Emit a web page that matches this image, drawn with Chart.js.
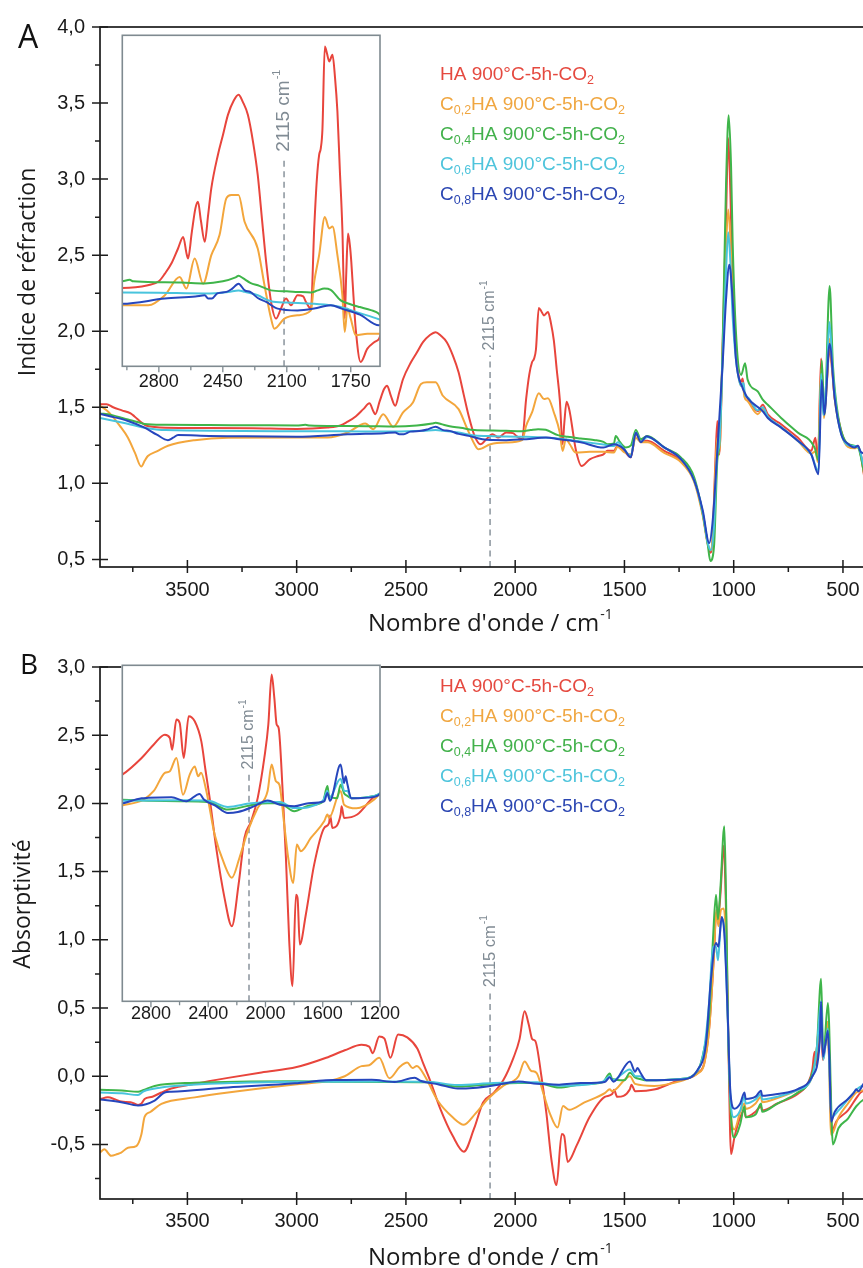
<!DOCTYPE html>
<html><head><meta charset="utf-8">
<script src="https://cdn.jsdelivr.net/npm/chart.js@4.4.1/dist/chart.umd.min.js"></script>
<style>
html,body{margin:0;padding:0;background:#fff;overflow:hidden;width:863px;height:1268px}
#wrap{position:relative;width:863px;height:1268px;overflow:hidden;background:#fff}
canvas{position:absolute;left:0}
</style></head><body>
<div id="wrap">
<canvas id="cA" width="900" height="640" style="top:0"></canvas>
<canvas id="cAi" width="900" height="640" style="top:0"></canvas>
<canvas id="cB" width="900" height="628" style="top:640px"></canvas>
<canvas id="cBi" width="900" height="628" style="top:640px"></canvas>
</div>
<script>
// ---------- labels ----------
const legendPrefix = ['', 'C', 'C', 'C', 'C'];
const legendSub = ['', '0,2', '0,4', '0,6', '0,8'];
const legendBody = 'HA 900°C-5h-CO';
const legendTail = '2';
const titleX = "Nombre d'onde / cm";
const titleYA = 'Indice de réfraction';
const titleYB = 'Absorptivité';
const markerText = '2115 cm';
const markerWN = 2115;

// ---------- ticks ----------
const xTicksMain = [3500, 3000, 2500, 2000, 1500, 1000, 500];
const xMinorMain = [3750, 3250, 2750, 2250, 1750, 1250, 750];
const yTicksA = [0.5, 1.0, 1.5, 2.0, 2.5, 3.0, 3.5, 4.0];
const yMinorA = [0.75, 1.25, 1.75, 2.25, 2.75, 3.25, 3.75];
const yTicksB = [-0.5, 0.0, 0.5, 1.0, 1.5, 2.0, 2.5, 3.0];
const yMinorB = [-0.75, -0.25, 0.25, 0.75, 1.25, 1.75, 2.25, 2.75];
const xTicksInsetA = [2800, 2450, 2100, 1750];
const xMinorInsetA = [2975, 2625, 2275, 1925];
const xTicksInsetB = [2800, 2400, 2000, 1600, 1200];
const xMinorInsetB = [2600, 2200, 1800, 1400];

// ---------- Panel A : refractive index [wavenumber, value] ----------
const refHA = [[3900,1.52],[3870,1.52],[3840,1.50],[3800,1.48],[3760,1.46],[3742,1.44],[3710,1.40],[3690,1.38],[3650,1.37],[3600,1.366],[3400,1.364],[3200,1.362],[3000,1.358],[2860,1.367],[2800,1.38],[2767,1.405],[2730,1.44],[2695,1.488],[2667,1.526],[2648,1.47],[2640,1.455],[2620,1.54],[2600,1.62],[2586,1.642],[2570,1.58],[2549,1.51],[2530,1.6],[2513,1.686],[2477,1.796],[2450,1.86],[2422,1.928],[2390,1.975],[2364,1.994],[2340,1.97],[2313,1.928],[2285,1.84],[2259,1.73],[2235,1.58],[2213,1.444],[2186,1.312],[2159,1.257],[2132,1.29],[2104,1.323],[2077,1.301],[2041,1.334],[2010,1.33],[1995,1.312],[1968,1.29],[1950,1.554],[1935,1.72],[1923,1.796],[1914,1.818],[1905,1.88],[1892,2.153],[1880,2.13],[1868,2.104],[1850,2.126],[1836,2.05],[1823,1.939],[1810,1.75],[1796,1.554],[1783,1.257],[1775,1.40],[1765,1.537],[1755,1.50],[1747,1.444],[1735,1.33],[1723,1.224],[1696,1.114],[1659,1.158],[1620,1.18],[1596,1.19],[1578,1.214],[1548,1.214],[1532,1.247],[1502,1.214],[1471,1.171],[1448,1.323],[1425,1.279],[1395,1.28],[1318,1.214],[1242,1.15],[1181,1.02],[1142,0.803],[1119,0.608],[1107,0.543],[1097,0.63],[1085,1.10],[1075,1.41],[1066,1.19],[1051,1.885],[1035,2.75],[1025,3.27],[1015,2.9],[1005,2.32],[990,1.885],[966,1.669],[959,1.69],[951,1.593],[936,1.56],[890,1.474],[867,1.517],[844,1.453],[783,1.388],[707,1.301],[645,1.214],[626,1.30],[615,1.15],[600,1.82],[587,1.453],[575,1.65],[561,1.885],[550,1.75],[538,1.56],[508,1.344],[477,1.247],[447,1.236],[431,1.247],[416,1.17],[402,1.04],[390,1.0]];
const refC02 = [[3900,1.51],[3870,1.48],[3849,1.45],[3810,1.38],[3772,1.30],[3740,1.20],[3711,1.11],[3695,1.15],[3681,1.18],[3640,1.21],[3589,1.247],[3467,1.284],[3314,1.30],[3000,1.301],[2858,1.301],[2767,1.334],[2686,1.394],[2649,1.356],[2604,1.455],[2558,1.372],[2513,1.466],[2468,1.532],[2431,1.653],[2404,1.664],[2364,1.664],[2331,1.576],[2259,1.488],[2222,1.367],[2186,1.257],[2168,1.224],[2113,1.257],[2041,1.268],[1968,1.284],[1950,1.378],[1923,1.466],[1892,1.592],[1868,1.554],[1850,1.56],[1823,1.466],[1796,1.334],[1783,1.213],[1768,1.29],[1750,1.257],[1723,1.202],[1659,1.207],[1596,1.207],[1548,1.203],[1532,1.24],[1502,1.205],[1471,1.19],[1448,1.30],[1425,1.27],[1395,1.27],[1318,1.20],[1242,1.14],[1181,1.01],[1142,0.79],[1119,0.60],[1107,0.56],[1097,0.62],[1085,1.05],[1075,1.30],[1066,1.20],[1051,1.85],[1035,2.55],[1025,2.8],[1015,2.6],[1005,2.2],[990,1.85],[966,1.64],[959,1.66],[951,1.57],[936,1.54],[890,1.455],[867,1.49],[844,1.435],[783,1.37],[707,1.28],[645,1.195],[626,1.21],[615,1.14],[600,1.75],[587,1.43],[575,1.62],[561,1.95],[550,1.78],[538,1.56],[508,1.33],[477,1.24],[447,1.23],[431,1.24],[416,1.17],[402,1.05],[390,1.0]];
const refC04 = [[3900,1.46],[3850,1.45],[3772,1.42],[3720,1.40],[3696,1.39],[3600,1.385],[3400,1.383],[3200,1.382],[3000,1.38],[2960,1.385],[2940,1.38],[2800,1.377],[2677,1.376],[2550,1.373],[2450,1.38],[2380,1.393],[2364,1.398],[2340,1.39],[2300,1.375],[2250,1.365],[2186,1.35],[2100,1.347],[2041,1.345],[1968,1.343],[1930,1.35],[1895,1.356],[1860,1.352],[1805,1.317],[1760,1.306],[1700,1.295],[1640,1.285],[1596,1.273],[1578,1.257],[1548,1.262],[1540,1.312],[1520,1.27],[1494,1.236],[1470,1.25],[1448,1.35],[1425,1.29],[1395,1.312],[1318,1.236],[1242,1.171],[1181,1.04],[1142,0.803],[1119,0.60],[1107,0.49],[1090,0.587],[1075,1.15],[1066,1.25],[1051,1.885],[1035,2.97],[1023,3.42],[1012,3.08],[1005,2.6],[990,2.0],[966,1.712],[948,1.79],[936,1.68],[890,1.604],[867,1.55],[844,1.517],[783,1.43],[707,1.334],[630,1.236],[612,1.15],[597,1.81],[585,1.453],[561,2.297],[546,1.777],[523,1.45],[477,1.26],[431,1.236],[402,1.06],[390,1.0]];
const refC06 = [[3900,1.43],[3800,1.40],[3696,1.366],[3600,1.35],[3000,1.343],[2800,1.342],[2550,1.34],[2420,1.345],[2364,1.35],[2330,1.345],[2259,1.334],[2186,1.314],[2100,1.31],[1950,1.306],[1850,1.30],[1805,1.295],[1700,1.275],[1596,1.255],[1548,1.245],[1530,1.27],[1502,1.225],[1471,1.18],[1448,1.335],[1425,1.275],[1395,1.305],[1318,1.235],[1242,1.16],[1181,1.02],[1142,0.81],[1119,0.61],[1105,0.56],[1090,0.72],[1075,1.2],[1066,1.25],[1051,1.8],[1035,2.4],[1025,2.65],[1015,2.45],[1005,2.1],[990,1.82],[966,1.64],[955,1.66],[948,1.58],[936,1.565],[890,1.48],[867,1.50],[844,1.44],[783,1.37],[707,1.28],[645,1.19],[612,1.08],[600,1.72],[590,1.45],[575,1.7],[562,2.06],[546,1.72],[523,1.42],[477,1.25],[431,1.24],[402,1.1],[390,1.05]];
const refC08 = [[3900,1.456],[3850,1.44],[3772,1.41],[3696,1.366],[3640,1.32],[3589,1.284],[3565,1.30],[3543,1.318],[3400,1.312],[3300,1.31],[3000,1.306],[2767,1.323],[2600,1.33],[2549,1.334],[2530,1.323],[2510,1.323],[2480,1.34],[2430,1.345],[2400,1.355],[2364,1.372],[2330,1.35],[2300,1.345],[2259,1.325],[2213,1.312],[2150,1.29],[2041,1.284],[1950,1.29],[1859,1.301],[1800,1.29],[1700,1.27],[1596,1.235],[1548,1.257],[1502,1.225],[1471,1.171],[1448,1.333],[1425,1.27],[1400,1.31],[1318,1.236],[1242,1.16],[1181,1.02],[1142,0.825],[1112,0.608],[1097,0.74],[1074,1.236],[1051,1.777],[1035,2.21],[1020,2.437],[1005,2.21],[990,1.82],[959,1.626],[951,1.60],[936,1.56],[867,1.474],[844,1.43],[783,1.366],[707,1.28],[645,1.19],[612,1.06],[597,1.68],[585,1.453],[561,1.918],[538,1.56],[508,1.323],[477,1.26],[447,1.236],[431,1.247],[420,1.21],[402,1.19],[390,1.15]];

// ---------- Panel B : absorptivity [wavenumber, value] ----------
const absHA = [[3900,-0.167],[3864,-0.155],[3830,-0.17],[3803,-0.186],[3760,-0.19],[3726,-0.21],[3710,-0.2],[3696,-0.167],[3660,-0.15],[3619,-0.119],[3574,-0.09],[3466,-0.055],[3314,-0.012],[3161,0.028],[3000,0.067],[2865,0.135],[2780,0.19],[2703,0.23],[2668,0.217],[2652,0.169],[2622,0.292],[2599,0.278],[2571,0.135],[2536,0.306],[2494,0.285],[2448,0.203],[2420,0.09],[2390,-0.028],[2344,-0.233],[2286,-0.437],[2235,-0.553],[2188,-0.383],[2147,-0.192],[2100,-0.124],[2054,-0.028],[2008,0.135],[1980,0.272],[1957,0.476],[1938,0.38],[1922,0.272],[1908,0.258],[1880,0.0],[1857,-0.274],[1834,-0.614],[1811,-0.798],[1787,-0.424],[1776,-0.437],[1760,-0.628],[1718,-0.505],[1660,-0.301],[1590,-0.151],[1556,-0.131],[1548,-0.1],[1533,-0.151],[1475,-0.096],[1468,-0.062],[1451,-0.11],[1359,-0.096],[1242,-0.024],[1208,-0.015],[1165,0.024],[1135,0.095],[1112,0.357],[1090,0.9],[1080,1.2],[1072,1.15],[1060,1.35],[1046,1.69],[1035,1.2],[1025,0.3],[1012,-0.571],[997,-0.45],[970,-0.3],[951,-0.25],[945,-0.3],[900,-0.26],[875,-0.22],[870,-0.25],[800,-0.2],[707,-0.13],[660,-0.05],[640,0.05],[630,0.18],[622,0.08],[612,0.2],[600,0.35],[592,0.12],[582,0.22],[570,0.3],[560,0.0],[550,-0.4],[530,-0.33],[477,-0.25],[439,-0.16],[420,-0.12],[402,-0.1],[390,-0.08]];
const absC02 = [[3900,-0.56],[3880,-0.536],[3849,-0.583],[3820,-0.57],[3803,-0.56],[3772,-0.524],[3734,-0.512],[3711,-0.429],[3696,-0.298],[3670,-0.262],[3619,-0.202],[3466,-0.155],[3314,-0.119],[3008,-0.06],[2855,-0.036],[2780,0.0],[2703,0.074],[2668,0.081],[2622,0.135],[2576,-0.015],[2529,0.067],[2494,0.1],[2470,0.06],[2450,0.075],[2413,0.0],[2355,-0.178],[2286,-0.301],[2235,-0.355],[2182,-0.274],[2124,-0.165],[2054,-0.069],[1985,0.0],[1957,0.108],[1927,0.04],[1903,0.026],[1869,-0.137],[1841,-0.274],[1806,-0.376],[1781,-0.219],[1753,-0.246],[1683,-0.192],[1590,-0.124],[1567,-0.096],[1556,-0.11],[1475,0.0],[1451,-0.056],[1364,-0.071],[1242,-0.036],[1208,-0.015],[1165,0.02],[1135,0.09],[1112,0.35],[1090,0.9],[1080,1.22],[1070,1.1],[1058,1.22],[1046,1.23],[1035,1.0],[1025,0.3],[1012,-0.3],[997,-0.39],[970,-0.26],[951,-0.2],[945,-0.24],[900,-0.2],[875,-0.15],[870,-0.19],[800,-0.16],[707,-0.1],[640,0.0],[620,0.2],[600,0.5],[590,0.13],[570,0.4],[554,-0.43],[520,-0.3],[477,-0.2],[439,-0.12],[402,-0.1],[390,-0.09]];
const absC04 = [[3900,-0.1],[3800,-0.105],[3726,-0.114],[3700,-0.1],[3650,-0.071],[3466,-0.048],[3008,-0.036],[2800,-0.04],[2600,-0.042],[2400,-0.045],[2263,-0.076],[2193,-0.07],[2077,-0.055],[1985,-0.05],[1900,-0.05],[1799,-0.083],[1700,-0.06],[1600,-0.045],[1567,0.02],[1556,-0.02],[1500,-0.03],[1475,0.026],[1450,-0.01],[1428,-0.02],[1400,-0.03],[1242,-0.02],[1165,0.04],[1135,0.2],[1112,0.45],[1095,1.0],[1081,1.33],[1072,1.15],[1060,1.4],[1043,1.833],[1035,1.3],[1025,0.3],[1012,-0.3],[997,-0.45],[970,-0.35],[951,-0.22],[945,-0.3],[900,-0.28],[875,-0.2],[870,-0.26],[800,-0.2],[707,-0.12],[650,-0.02],[620,0.2],[600,0.714],[590,0.14],[569,0.536],[546,-0.5],[520,-0.38],[477,-0.31],[439,-0.22],[402,-0.167],[390,-0.16]];
const absC06 = [[3900,-0.119],[3800,-0.125],[3726,-0.138],[3700,-0.11],[3620,-0.083],[3300,-0.05],[3000,-0.04],[2600,-0.038],[2400,-0.04],[2263,-0.065],[2100,-0.05],[1900,-0.045],[1799,-0.07],[1600,-0.04],[1567,0.0],[1556,-0.03],[1475,0.05],[1450,0.0],[1428,0.0],[1400,-0.03],[1242,-0.02],[1165,0.04],[1135,0.2],[1112,0.55],[1095,0.95],[1081,0.95],[1072,0.85],[1060,1.1],[1050,1.15],[1040,1.0],[1028,0.45],[1015,-0.15],[1000,-0.3],[970,-0.25],[951,-0.15],[945,-0.2],[900,-0.17],[875,-0.13],[870,-0.17],[800,-0.15],[707,-0.1],[640,0.0],[620,0.2],[600,0.55],[590,0.12],[569,0.35],[554,-0.3],[520,-0.25],[477,-0.17],[439,-0.1],[402,-0.06],[390,-0.05]];
const absC08 = [[3900,-0.17],[3803,-0.19],[3726,-0.214],[3650,-0.178],[3604,-0.119],[3574,-0.114],[3314,-0.083],[3008,-0.052],[2865,-0.03],[2819,-0.028],[2657,-0.026],[2553,-0.042],[2460,-0.012],[2430,-0.035],[2350,-0.06],[2263,-0.09],[2193,-0.086],[2077,-0.062],[1985,-0.039],[1900,-0.056],[1799,-0.062],[1700,-0.05],[1590,-0.042],[1567,-0.008],[1550,-0.04],[1475,0.108],[1451,0.033],[1440,0.06],[1428,0.029],[1400,-0.03],[1242,-0.024],[1165,0.048],[1127,0.238],[1104,0.714],[1081,0.976],[1070,0.95],[1055,1.167],[1043,1.048],[1028,0.476],[1015,-0.119],[997,-0.238],[970,-0.2],[951,-0.119],[945,-0.167],[900,-0.15],[875,-0.107],[870,-0.143],[800,-0.13],[707,-0.095],[640,0.0],[607,0.238],[600,0.548],[592,0.143],[580,0.238],[569,0.333],[562,0.119],[554,-0.333],[538,-0.262],[477,-0.167],[450,-0.12],[439,-0.095],[430,-0.11],[402,-0.048],[390,-0.04]];

// ---------- styles ----------
const lineColors = ['#e8453c', '#f3a63c', '#3fb54a', '#48c4dd', '#2646bd'];
const textColors = ['#e5493f', '#f0a640', '#42b14b', '#4ec4dc', '#2b46b2'];
const FONT_NUM = '"Liberation Sans", Arial, sans-serif';
const FONT_TXT = '"Open Sans", "Liberation Sans", sans-serif';
const AXIS_COLOR = '#1c1c1c';
const INSET_COLOR = '#7f8a90';
const MARK_COLOR = '#808b94';

const fmtComma = v => (Math.abs(v) < 1e-9 ? 0 : v).toFixed(1).replace('.', ',');

function toXY(arr) { return arr.map(p => ({ x: p[0], y: p[1] })); }
function makeDatasets(series) {
  // last drawn on top: put blue (index 4) first
  return [4, 3, 2, 1, 0].map(i => ({
    data: toXY(series[i]),
    borderColor: lineColors[i],
    borderWidth: 2,
    pointRadius: 0,
    fill: false,
    cubicInterpolationMode: 'monotone',
    borderJoinStyle: 'round'
  }));
}

function drawMarker(ctx, chart, topValue, fontSize) {
  const x = chart.scales.x.getPixelForValue(markerWN);
  const yTop = chart.scales.y.getPixelForValue(topValue);
  const yBot = chart.chartArea.bottom;
  ctx.save();
  ctx.strokeStyle = MARK_COLOR; ctx.lineWidth = 1.4; ctx.setLineDash([6, 4.5]);
  ctx.beginPath(); ctx.moveTo(x, yBot); ctx.lineTo(x, yTop); ctx.stroke();
  ctx.setLineDash([]);
  ctx.translate(x, yTop - 5);
  ctx.rotate(-Math.PI / 2);
  ctx.fillStyle = MARK_COLOR;
  ctx.textAlign = 'left'; ctx.textBaseline = 'middle';
  ctx.font = fontSize + 'px ' + FONT_NUM;
  ctx.fillText(markerText, 0, 0);
  const w = ctx.measureText(markerText).width;
  ctx.font = Math.round(fontSize * 0.6) + 'px ' + FONT_NUM;
  ctx.fillText('-1', w + 1, -fontSize * 0.38);
  ctx.restore();
}

function drawLegend(ctx, x, y0, dy) {
  ctx.save();
  ctx.textAlign = 'left'; ctx.textBaseline = 'middle';
  const big = '19px ' + FONT_NUM, small = '12.5px ' + FONT_NUM;
  for (let i = 0; i < 5; i++) {
    let cx = x; const cy = y0 + i * dy;
    ctx.fillStyle = textColors[i];
    if (legendPrefix[i]) {
      ctx.font = big; ctx.fillText(legendPrefix[i], cx, cy); cx += ctx.measureText(legendPrefix[i]).width;
      ctx.font = small; ctx.fillText(legendSub[i], cx, cy + 6); cx += ctx.measureText(legendSub[i]).width;
    }
    ctx.font = big; ctx.fillText(legendBody, cx, cy); cx += ctx.measureText(legendBody).width;
    ctx.font = small; ctx.fillText(legendTail, cx, cy + 6);
  }
  ctx.restore();
}

function drawXTitle(ctx, left, baseline) {
  ctx.save();
  ctx.fillStyle = '#1a1a1a'; ctx.textAlign = 'left'; ctx.textBaseline = 'alphabetic';
  ctx.font = '24px ' + FONT_TXT;
  ctx.fillText(titleX, left, baseline);
  const w = ctx.measureText(titleX).width;
  ctx.font = '14px ' + FONT_TXT;
  ctx.fillText('-1', left + w + 1, baseline - 12);
  ctx.restore();
}

function drawYTitle(ctx, text, xBase, yCenter) {
  ctx.save();
  ctx.fillStyle = '#1a1a1a';
  ctx.translate(xBase, yCenter); ctx.rotate(-Math.PI / 2);
  ctx.textAlign = 'center'; ctx.textBaseline = 'alphabetic';
  ctx.font = '23px ' + FONT_TXT;
  ctx.fillText(text, 0, 0);
  ctx.restore();
}

function mainDecor(cfg) {
  return {
    id: 'mainDecor' + cfg.name,
    beforeDatasetsDraw(chart) {
      drawMarker(chart.ctx, chart, cfg.markerTop, cfg.markerFont);
    },
    afterDraw(chart) {
      const { ctx, chartArea: { left, right, top, bottom }, scales: { x, y } } = chart;
      ctx.save();
      ctx.strokeStyle = AXIS_COLOR; ctx.lineWidth = 1.7;
      ctx.strokeRect(left, top, right - left, bottom - top);
      ctx.lineWidth = 1.5;
      ctx.beginPath();
      cfg.xTicks.forEach(v => { const p = x.getPixelForValue(v); ctx.moveTo(p, bottom - 7); ctx.lineTo(p, bottom + 6); });
      cfg.xMinor.forEach(v => { const p = x.getPixelForValue(v); ctx.moveTo(p, bottom); ctx.lineTo(p, bottom + 5); });
      cfg.yTicks.forEach(v => { const p = y.getPixelForValue(v); ctx.moveTo(left - 8, p); ctx.lineTo(left + 8, p); });
      cfg.yMinor.forEach(v => { const p = y.getPixelForValue(v); ctx.moveTo(left - 5, p); ctx.lineTo(left, p); });
      ctx.stroke();
      ctx.restore();
      drawLegend(ctx, cfg.legendX, cfg.legendY, 30);
      drawXTitle(ctx, cfg.xTitleLeft, cfg.xTitleBase);
      drawYTitle(ctx, cfg.yTitle, cfg.yTitleX, cfg.yTitleY);
      ctx.save();
      ctx.fillStyle = '#111'; ctx.textAlign = 'left'; ctx.textBaseline = 'alphabetic';
      ctx.font = cfg.letterSize + 'px ' + FONT_TXT;
      ctx.fillText(cfg.letter, cfg.letterX, cfg.letterBase);
      ctx.restore();
    }
  };
}

function buildMain(id, series, cfg) {
  return new Chart(document.getElementById(id).getContext('2d'), {
    type: 'line',
    data: { datasets: makeDatasets(series) },
    options: {
      responsive: false, animation: false, devicePixelRatio: 1,
      layout: { padding: { left: 0, top: cfg.padTop, right: cfg.padRight, bottom: 0 } },
      plugins: { legend: { display: false }, tooltip: { enabled: false } },
      scales: {
        x: {
          type: 'linear', reverse: true, min: 390, max: 3900,
          afterFit: s => { s.height = cfg.xAxisHeight; },
          afterBuildTicks: s => { s.ticks = cfg.xTicks.map(v => ({ value: v })); },
          grid: { display: false, drawTicks: false }, border: { display: false },
          ticks: { padding: cfg.xPad, color: '#1a1a1a', autoSkip: false, maxRotation: 0,
                   font: { family: FONT_NUM, size: 20 }, callback: v => String(v) }
        },
        y: {
          type: 'linear', min: cfg.ymin, max: cfg.ymax,
          afterFit: s => { s.width = 100; },
          afterBuildTicks: s => { s.ticks = cfg.yTicks.map(v => ({ value: v })); },
          grid: { display: false, drawTicks: false }, border: { display: false },
          ticks: { padding: 15, color: '#1a1a1a', autoSkip: false,
                   font: { family: FONT_NUM, size: 20 }, callback: v => fmtComma(v) }
        }
      }
    },
    plugins: [mainDecor(cfg)]
  });
}

function insetDecor(cfg) {
  return {
    id: 'insetDecor' + cfg.name,
    beforeDraw(chart) {
      const { ctx, chartArea: { left, right, top, bottom } } = chart;
      ctx.save(); ctx.fillStyle = '#fff';
      ctx.fillRect(left - 1, top - 1, right - left + 2, bottom - top + 2);
      ctx.restore();
    },
    beforeDatasetsDraw(chart) {
      drawMarker(chart.ctx, chart, cfg.markerTop, cfg.markerFont);
    },
    afterDraw(chart) {
      const { ctx, chartArea: { left, right, top, bottom }, scales: { x } } = chart;
      ctx.save();
      ctx.strokeStyle = INSET_COLOR; ctx.lineWidth = 1.6;
      ctx.strokeRect(left, top, right - left, bottom - top);
      ctx.lineWidth = 1.3;
      ctx.beginPath();
      cfg.xTicks.forEach(v => { const p = x.getPixelForValue(v); ctx.moveTo(p, bottom); ctx.lineTo(p, bottom + 6); });
      cfg.xMinor.forEach(v => { const p = x.getPixelForValue(v); ctx.moveTo(p, bottom); ctx.lineTo(p, bottom + 4); });
      ctx.stroke();
      ctx.restore();
    }
  };
}

function buildInset(id, series, cfg) {
  return new Chart(document.getElementById(id).getContext('2d'), {
    type: 'line',
    data: { datasets: makeDatasets(series) },
    options: {
      responsive: false, animation: false, devicePixelRatio: 1,
      layout: { padding: { left: cfg.left, top: cfg.top, right: cfg.padRight, bottom: 0 } },
      plugins: { legend: { display: false }, tooltip: { enabled: false } },
      scales: {
        x: {
          type: 'linear', reverse: true, min: cfg.xmin, max: cfg.xmax,
          afterFit: s => { s.height = cfg.xAxisHeight; },
          afterBuildTicks: s => { s.ticks = cfg.xTicks.map(v => ({ value: v })); },
          grid: { display: false, drawTicks: false }, border: { display: false },
          ticks: { padding: cfg.xPad, color: '#1a1a1a', autoSkip: false, maxRotation: 0,
                   font: { family: FONT_NUM, size: 18 }, callback: v => String(v) }
        },
        y: { type: 'linear', display: false, min: cfg.ymin, max: cfg.ymax }
      }
    },
    plugins: [insetDecor(cfg)]
  });
}

const seriesA = [refHA, refC02, refC04, refC06, refC08];
const seriesB = [absHA, absC02, absC04, absC06, absC08];

buildMain('cA', seriesA, {
  name: 'A', padTop: 21, padRight: 33, xAxisHeight: 73, xPad: 11,
  ymin: 0.45, ymax: 4.0, xTicks: xTicksMain, xMinor: xMinorMain, yTicks: yTicksA, yMinor: yMinorA,
  markerTop: 1.84, markerFont: 16,
  legendX: 440, legendY: 75, xTitleLeft: 368, xTitleBase: 631,
  yTitle: titleYA, yTitleX: 35, yTitleY: 272,
  letter: 'A', letterSize: 32, letterX: 18, letterBase: 48
});
buildInset('cAi', seriesA, {
  name: 'Ai', left: 122.3, top: 35.3, padRight: 520, xAxisHeight: 273.7, xPad: 5,
  xmin: 1590, xmax: 3000, ymin: 1.10, ymax: 2.19,
  xTicks: xTicksInsetA, xMinor: xMinorInsetA, markerTop: 1.79, markerFont: 19
});
buildMain('cB', seriesB, {
  name: 'B', padTop: 13, padRight: 33, xAxisHeight: 69, xPad: 10,
  ymin: -0.9, ymax: 3.0, xTicks: xTicksMain, xMinor: xMinorMain, yTicks: yTicksB, yMinor: yMinorB,
  markerTop: 0.616, markerFont: 16.5,
  legendX: 440, legendY: 47, xTitleLeft: 368, xTitleBase: 625,
  yTitle: titleYB, yTitleX: 30, yTitleY: 264,
  letter: 'B', letterSize: 28, letterX: 20, letterBase: 34
});
buildInset('cBi', seriesB, {
  name: 'Bi', left: 122.3, top: 25.3, padRight: 520, xAxisHeight: 266.7, xPad: 2,
  xmin: 1200, xmax: 3000, ymin: -0.86, ymax: 0.514,
  xTicks: xTicksInsetB, xMinor: xMinorInsetB, markerTop: 0.067, markerFont: 16
});
</script>
</body></html>
